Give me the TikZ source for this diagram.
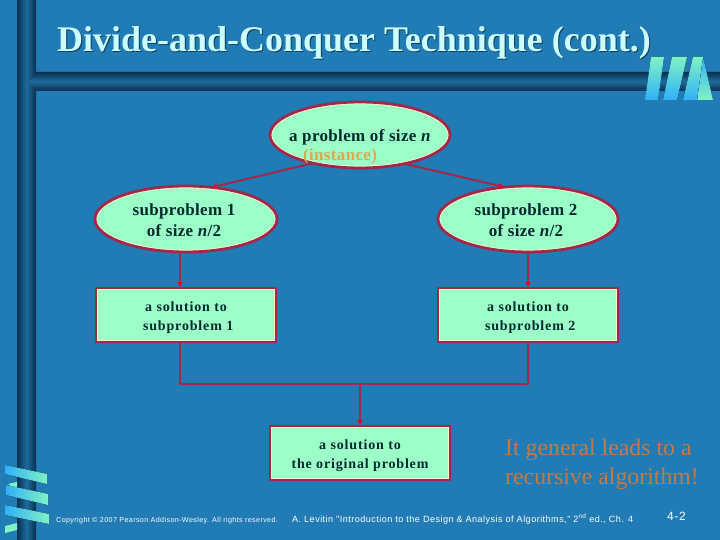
\documentclass[tikz,border=0pt]{standalone}
\usepackage{fontspec}
\usetikzlibrary{shapes.geometric,arrows.meta,calc,shadows}
\setmainfont{Liberation Serif}
\newfontfamily\footfont[LetterSpace=5]{Liberation Sans}
\newfontfamily\boxfont[LetterSpace=6]{Liberation Serif}
\newfontfamily\ovalfont[LetterSpace=2]{Liberation Serif}
\newcommand{\topgap}{\rule{0pt}{15.6pt}}
\definecolor{bgblue}{HTML}{217BB4}
\definecolor{bardark}{HTML}{08304F}
\definecolor{barmid}{HTML}{1F6A9E}
\definecolor{mint}{HTML}{9CFFC8}
\definecolor{edge}{HTML}{A0284A}
\definecolor{tipred}{HTML}{E0062A}
\definecolor{cream}{HTML}{FFF4C8}
\definecolor{ink}{HTML}{00282E}
\definecolor{instcol}{HTML}{DDA850}
\definecolor{notecol}{HTML}{C47A45}
\definecolor{titlecol}{HTML}{CCFFFF}
\definecolor{ribgreen}{HTML}{80F2C4}
\definecolor{ribblue}{HTML}{30B0F8}
\tikzset{
  oval/.style n args={2}{ellipse,inner sep=0pt,outer sep=0pt,fill=mint,draw=edge,line width=2.8pt,
    minimum width=2*#1 pt,minimum height=2*#2 pt,
    path picture={\draw[cream,line width=4.4pt] (path picture bounding box.center) ellipse [x radius=#1,y radius=#2];}},
  boxy/.style={rectangle,inner sep=0pt,outer sep=0pt,fill=mint,draw=edge,line width=2.8pt,
    minimum width=180pt,minimum height=54pt,
    path picture={\draw[cream,line width=4.2pt] (path picture bounding box.south west) rectangle (path picture bounding box.north east);}},
  ovaltxt/.style={font=\fontsize{17}{21}\selectfont\ovalfont\bfseries,text=ink,align=center},
  boxtxt/.style={font=\fontsize{14}{19}\selectfont\boxfont\bfseries,text=ink,align=center},
  link/.style={draw=edge,line width=2pt},
  arrowlink/.style={link,-{Latex[length=6pt,width=6pt,color=tipred]}},
  footer/.style={text=white,anchor=west,inner sep=0pt},
  ribv/.style={top color=ribgreen,bottom color=ribblue},
  ribr/.style={top color=ribblue,bottom color=ribgreen},
  ribh/.style={left color=ribblue,right color=ribgreen},
}
\begin{document}
\begin{tikzpicture}[x=1pt,y=-1pt]
\useasboundingbox (0,0) rectangle (720,540);
\fill[bgblue] (0,0) rectangle (720,540);
% frame bars
\shade[left color=bardark,right color=bardark,middle color=barmid] (17,0) rectangle (36,540);
\shade[top color=bardark,bottom color=bardark,middle color=barmid] (36,72) -- (720,72) -- (720,91) -- (36,91) -- (28,82) -- cycle;
% ribbon top right
\fill[ribr] (703,57) -- (713,100) -- (697,100) -- cycle;
\fill[ribv] (651,57) -- (664,57) -- (658,100) -- (645,100) -- cycle;
\fill[ribv] (672,57) -- (687,57) -- (677,100) -- (663,100) -- cycle;
\fill[ribv] (693,57) -- (703,57) -- (697,100) -- (683,100) -- cycle;
% ribbon bottom left
\fill[ribgreen] (8,484) -- (17,482) -- (17,490) -- cycle;
\fill[ribh] (5,465) -- (47,474) -- (47,484) -- (5,474) -- cycle;
\fill[ribh] (6,485) -- (48,494) -- (48,505) -- (6,495) -- cycle;
\fill[ribh] (5,505) -- (49,514) -- (49,524) -- (5,515) -- cycle;
\fill[ribgreen] (5,526) -- (17,523) -- (17,530) -- (5,533) -- cycle;
% title
\node[font=\fontsize{36}{40}\selectfont\bfseries,text=black!50!bgblue] at (355,44) {Divide-and-Conquer Technique (cont.)};
\node[font=\fontsize{36}{40}\selectfont\bfseries,text=titlecol] (title) at (354,43) {Divide-and-Conquer Technique (cont.)};
% nodes
\node[oval={90}{33},label={[ovaltxt,font=\fontsize{17}{19}\selectfont\ovalfont\bfseries,align=left,yshift=-12pt]center:a problem of size \textit{n}\\\hspace*{14pt}\textcolor{instcol}{(instance)}}] (top) at (360,135) {};
\node[oval={91}{33},label={[ovaltxt,xshift=-2pt,yshift=-1pt]center:subproblem 1\\of size \textit{n}/2}] (e1) at (186,219) {};
\node[oval={90}{33},label={[ovaltxt,xshift=-2pt,yshift=-1pt]center:subproblem 2\\of size \textit{n}/2}] (e2) at (528,219) {};
\node[boxy,boxtxt] (r1) at (186,315) {\topgap a solution to\\\ subproblem 1};
\node[boxy,boxtxt] (r2) at (528,315) {\topgap a solution to\\\ subproblem 2};
\node[boxy,boxtxt] (r3) at (360,453) {\topgap a solution to\\the original problem};
\coordinate (c1) at (180,384);
\coordinate (c2) at (528,384);
\coordinate (c3) at (360,384);
% connectors
\draw[arrowlink] (top.211) -- (e1.51);
\draw[arrowlink] (top.327) -- (e2.126);
\draw[arrowlink] (c1 |- e1.south) -- (c1 |- r1.north);
\draw[arrowlink] (c2 |- e2.south) -- (c2 |- r2.north);
\draw[link] (c1 |- r1.south) -- (c1) -- (c2) -- (c2 |- r2.south);
\draw[arrowlink] (c3) -- (r3.north);
% note
\node[font=\fontsize{23.8}{29}\selectfont,text=notecol,align=left,anchor=west,inner sep=0pt] (note) at (505,464) {It general leads to a\\recursive algorithm!};
% footers
\node[footer,font=\fontsize{7.2}{8}\footfont] (copy) at (56,521) {Copyright © 2007 Pearson Addison-Wesley. All rights reserved.};
\node[footer,font=\fontsize{9.1}{10}\footfont] (cite) at (292,519) {A. Levitin "Introduction to the Design \& Analysis of Algorithms," 2\textsuperscript{nd} ed., Ch. 4};
\node[footer,font=\fontsize{12}{14}\footfont] (page) at (667,516) {4-2};
\end{tikzpicture}
\end{document}
